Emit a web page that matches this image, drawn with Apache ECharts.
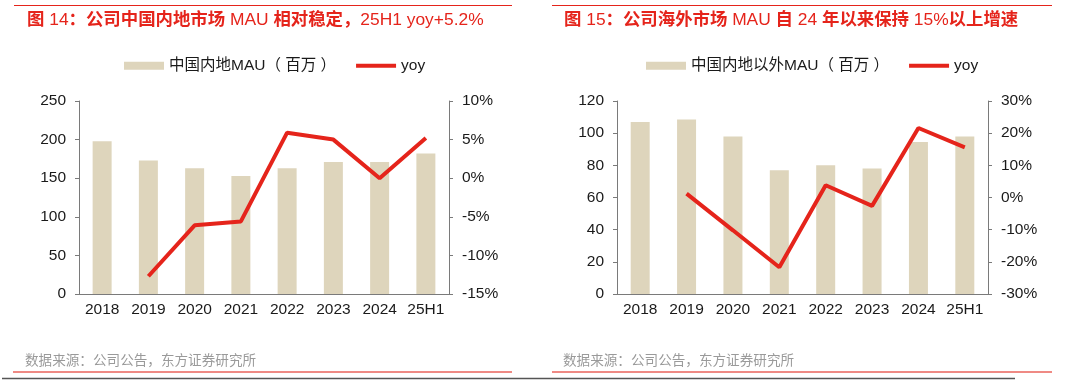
<!DOCTYPE html>
<html>
<head>
<meta charset="utf-8">
<script src="https://cdn.jsdelivr.net/npm/echarts@6/dist/echarts.min.js"></script>
<style>html,body{margin:0;padding:0;background:#fff}#c{width:1069px;height:384px}</style>
</head>
<body>
<div id="c"></div>
<script>
// ---- data ----
var categories = ['2018', '2019', '2020', '2021', '2022', '2023', '2024', '25H1'];
var domesticMAU = [198, 173, 163, 153, 163, 171, 171, 182];
var domesticYoy = [null, -12.7, -6.1, -5.6, 5.9, 5.0, 0.0, 5.2];
var overseasMAU = [107, 108.5, 98, 77, 80, 78, 94.5, 98];
var overseasYoy = [null, 1.2, -10.2, -21.7, 3.8, -2.6, 21.6, 15.6];
var leftTitleParts = [['b', '图'], ['n', ' 14'], ['b', '：公司中国内地市场'], ['n', ' MAU '], ['b', '相对稳定，'], ['n', '25H1 yoy+5.2%']];
var rightTitleParts = [['b', '图'], ['n', ' 15'], ['b', '：公司海外市场'], ['n', ' MAU '], ['b', '自'], ['n', ' 24 '], ['b', '年以来保持'], ['n', ' 15%'], ['b', '以上增速']];
var sourceText = '数据来源：公司公告，东方证券研究所';
var leftBarName = '中国内地MAU（ 百万 ）';
var rightBarName = '中国内地以外MAU（ 百万 ）';

// ---- styles ----
var FONT = "'Liberation Sans', 'Noto Sans CJK SC', sans-serif";
var RED = '#e5241b';
var BAR = '#ded5bc';
var AXIS = '#7a7a7a';
var LABEL = '#1a1a1a';
var LINE_ICON = 'path://M0,0L40,0L40,4L0,4Z';

function richTitle(parts) {
  return parts.map(function (p) { return '{' + p[0] + '|' + p[1] + '}'; }).join('');
}
var titleRich = {
  b: { fontFamily: FONT, fontSize: 17.4, fontWeight: 'bold', fill: RED, color: RED },
  n: { fontFamily: FONT, fontSize: 17.4, fontWeight: 'normal', fill: RED, color: RED }
};

function xAxis(gi) {
  return {
    type: 'category', gridIndex: gi, data: categories,
    axisLine: { lineStyle: { color: AXIS, width: 1 } },
    axisTick: { inside: true, length: 4, lineStyle: { color: AXIS } },
    axisLabel: { color: LABEL, fontSize: 15.5, fontFamily: FONT, margin: 8, interval: 0 }
  };
}
function yAxis(gi, min, max, interval, pos, pct) {
  return {
    type: 'value', gridIndex: gi, min: min, max: max, interval: interval, position: pos,
    splitLine: { show: false },
    axisLine: { show: true, lineStyle: { color: AXIS, width: 1 } },
    axisTick: { show: true, length: 4, lineStyle: { color: AXIS } },
    axisLabel: {
      color: LABEL, fontSize: 15.5, fontFamily: FONT, margin: 13,
      formatter: pct ? function (v) { return v + '%'; } : '{value}'
    }
  };
}
function legend(left, barName, lineName) {
  return {
    left: left, top: 58, padding: 0, itemWidth: 40, itemHeight: 8, itemGap: 20,
    textStyle: { fontFamily: FONT, fontSize: 15.5, color: LABEL },
    formatter: function (n) { return n.trim(); },
    data: [
      { name: barName, icon: 'rect' },
      { name: lineName, icon: LINE_ICON, itemStyle: { color: RED } }
    ]
  };
}

var chart = echarts.init(document.getElementById('c'), null, { renderer: 'canvas' });
chart.setOption({
  animation: false,
  backgroundColor: '#fff',
  grid: [
    { left: 79, right: 620, top: 101, bottom: 90, containLabel: false },
    { left: 617, right: 81, top: 101, bottom: 90, containLabel: false }
  ],
  legend: [legend(124, leftBarName, 'yoy'), legend(646, rightBarName, 'yoy ')],
  xAxis: [xAxis(0), xAxis(1)],
  yAxis: [
    yAxis(0, 0, 250, 50, 'left', false),
    yAxis(0, -15, 10, 5, 'right', true),
    yAxis(1, 0, 120, 20, 'left', false),
    yAxis(1, -30, 30, 10, 'right', true)
  ],
  series: [
    { name: leftBarName, type: 'bar', xAxisIndex: 0, yAxisIndex: 0, data: domesticMAU, barWidth: 19, itemStyle: { color: BAR } },
    { name: 'yoy', type: 'line', xAxisIndex: 0, yAxisIndex: 1, data: domesticYoy, symbol: 'none', lineStyle: { color: RED, width: 4 }, itemStyle: { color: RED } },
    { name: rightBarName, type: 'bar', xAxisIndex: 1, yAxisIndex: 2, data: overseasMAU, barWidth: 19, itemStyle: { color: BAR } },
    { name: 'yoy ', type: 'line', xAxisIndex: 1, yAxisIndex: 3, data: overseasYoy, symbol: 'none', lineStyle: { color: RED, width: 4 }, itemStyle: { color: RED } }
  ],
  graphic: [
    { type: 'line', shape: { x1: 14, y1: 5.5, x2: 512, y2: 5.5 }, style: { stroke: RED, lineWidth: 1.2 } },
    { type: 'line', shape: { x1: 552, y1: 5.5, x2: 1052, y2: 5.5 }, style: { stroke: RED, lineWidth: 1.2 } },
    { type: 'text', left: 27, top: 12, style: { text: richTitle(leftTitleParts), rich: titleRich, font: '17.4px ' + FONT } },
    { type: 'text', left: 564, top: 12, style: { text: richTitle(rightTitleParts), rich: titleRich, font: '17.4px ' + FONT } },
    { type: 'text', left: 25, top: 354, style: { text: sourceText, fill: '#9a9a9a', font: '13.6px ' + FONT } },
    { type: 'text', left: 563, top: 354, style: { text: sourceText, fill: '#9a9a9a', font: '13.6px ' + FONT } },
    { type: 'line', shape: { x1: 13, y1: 372, x2: 512, y2: 372 }, style: { stroke: '#ef8a84', lineWidth: 2 } },
    { type: 'line', shape: { x1: 552, y1: 372, x2: 1052, y2: 372 }, style: { stroke: '#ef8a84', lineWidth: 2 } },
    { type: 'line', shape: { x1: 2, y1: 378.5, x2: 1015, y2: 378.5 }, style: { stroke: '#555', lineWidth: 1.5 } }
  ]
});
</script>
</body>
</html>
